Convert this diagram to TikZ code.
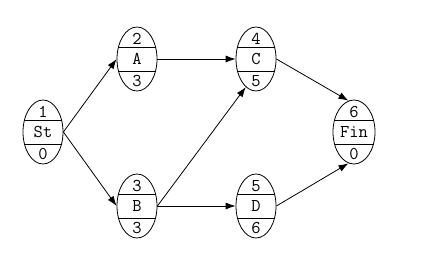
\documentclass[tikz,border=0pt]{standalone}
\usepackage{tikz}
\usetikzlibrary{arrows.meta,shapes.geometric}

\begin{document}
\begin{tikzpicture}[x=1pt,y=-1pt,
  event/.style={ellipse,draw,line width=0.8pt,minimum width=40pt,minimum height=64pt,inner sep=0pt,
    font=\ttfamily\fontsize{18}{20}\selectfont,
    path picture={\draw[line width=0.8pt] ([yshift=12pt]path picture bounding box.west) -- ([yshift=12pt]path picture bounding box.east);
      \draw[line width=0.8pt] ([yshift=-12pt]path picture bounding box.west) -- ([yshift=-12pt]path picture bounding box.east);}},
  num/.style={inner sep=0pt,font=\ttfamily\fontsize{18}{20}\selectfont},
  link/.style={-{Latex[length=10pt,width=7pt]},line width=0.8pt}]
\useasboundingbox (0,0) rectangle (443,267);
\node[event] (St) at (43,132) {St};
\node[num] (St-id) at (43,112) {1}; \node[num] (St-dur) at (43,154) {0};
\node[event] (A) at (137,59) {A};
\node[num] (A-id) at (137,39) {2}; \node[num] (A-dur) at (137,81) {3};
\node[event] (B) at (137,206) {B};
\node[num] (B-id) at (137,186) {3}; \node[num] (B-dur) at (137,228) {3};
\node[event] (C) at (256,59) {C};
\node[num] (C-id) at (256,39) {4}; \node[num] (C-dur) at (256,81) {5};
\node[event] (D) at (256,206) {D};
\node[num] (D-id) at (256,186) {5}; \node[num] (D-dur) at (256,228) {6};
\node[event,minimum width=42pt] (Fin) at (354,132) {Fin};
\node[num] (Fin-id) at (354,112) {6}; \node[num] (Fin-dur) at (354,154) {0};
\draw[link] (St.east) -- (A.west);
\draw[link] (St.east) -- (B.west);
\draw[link] (A.east) -- (C.west);
\draw[link] (B.east) -- (C.250);
\draw[link] (B.east) -- (D.west);
\draw[link] (C.east) -- (Fin.100);
\draw[link] (D.east) -- (Fin.-100);
\end{tikzpicture}
\end{document}
